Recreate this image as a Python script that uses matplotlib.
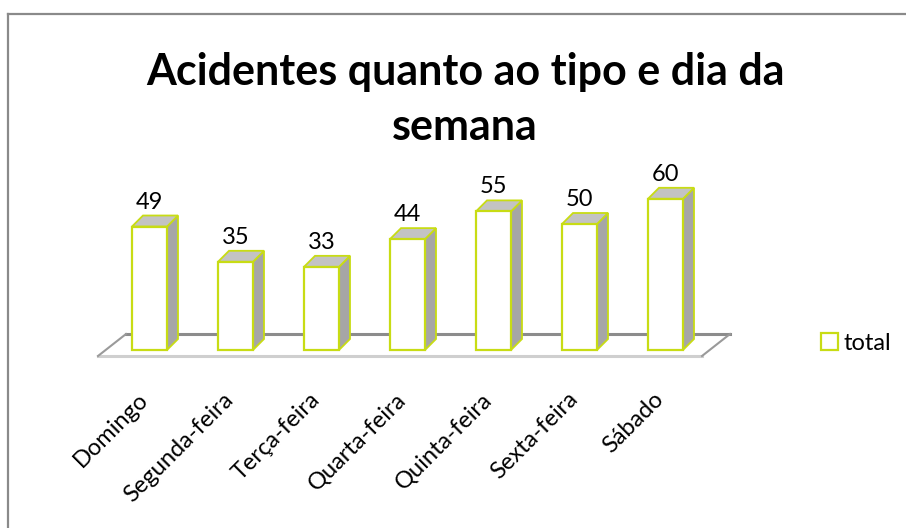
import matplotlib.pyplot as plt
from matplotlib.patches import Polygon, Rectangle, Patch
from matplotlib.lines import Line2D

# ======================
# dados
# ======================
dias = ['Domingo', 'Segunda-feira', 'Terça-feira', 'Quarta-feira',
        'Quinta-feira', 'Sexta-feira', 'Sábado']
total = [49, 35, 33, 44, 55, 50, 60]
serie = 'total'
titulo = ['Acidentes quanto ao tipo e dia da', 'semana']

plt.rcParams['font.family'] = ['Lato', 'DejaVu Sans']

# ======================
# layout (pixels)
# ======================
W, H = 906, 528
px_cat = 86.0      # px por categoria
x0_px = 149.5      # centro da 1a barra
px_val = 2.52      # px por unidade
y0_px = 350.0      # base das barras

verde = '#c8dc14'
cinza_lado = '#a6a6a6'
cinza_topo = '#c3c3c3'

fig = plt.figure(figsize=(W / 100, H / 100), dpi=100)
ax_l, ax_r, ax_t, ax_b = 60, 760, 150, 380
ax = fig.add_axes([ax_l / W, (H - ax_b) / H, (ax_r - ax_l) / W, (ax_b - ax_t) / H])
ax.set_xlim((ax_l - x0_px) / px_cat, (ax_r - x0_px) / px_cat)
ax.set_ylim((y0_px - ax_b) / px_val, (y0_px - ax_t) / px_val)
ax.axis('off')

# borda do grafico (so topo e esquerda visiveis)
fig.add_artist(Line2D([8 / W, 1], [1 - 14 / H, 1 - 14 / H], color='#8a8a8a', lw=1.6))
fig.add_artist(Line2D([8 / W, 8 / W], [0, 1 - 14 / H], color='#8a8a8a', lw=1.6))

# ======================
# piso 3D
# ======================
fl_front = (y0_px - 356) / px_val
fl_back = (y0_px - 334) / px_val
fl_x = [(98 - x0_px) / px_cat, (702 - x0_px) / px_cat,
        (730 - x0_px) / px_cat, (126 - x0_px) / px_cat]
piso = [(fl_x[0], fl_front), (fl_x[1], fl_front), (fl_x[2], fl_back), (fl_x[3], fl_back)]
ax.add_patch(Polygon(piso, closed=True, facecolor='white', edgecolor='none', zorder=1))
ax.plot([fl_x[3], fl_x[2]], [fl_back, fl_back], color='#8c8c8c', lw=2.2, zorder=2)
ax.plot([fl_x[0], fl_x[1]], [fl_front, fl_front], color='#cfcfcf', lw=2.2, zorder=2)
ax.plot([fl_x[0], fl_x[3]], [fl_front, fl_back], color='#9a9a9a', lw=1.5, zorder=2)
ax.plot([fl_x[1], fl_x[2]], [fl_front, fl_back], color='#9a9a9a', lw=1.5, zorder=2)

# ======================
# barras 3D
# ======================
bw = 35 / px_cat
ddx = 11 / px_cat
ddy = 11 / px_val

for i, v in enumerate(total):
    xl, xr = i - bw / 2, i + bw / 2
    lado = [(xr, 0), (xr + ddx, ddy), (xr + ddx, v + ddy), (xr, v)]
    topo = [(xl, v), (xr, v), (xr + ddx, v + ddy), (xl + ddx, v + ddy)]
    ax.add_patch(Polygon(lado, closed=True, facecolor=cinza_lado, edgecolor=verde, lw=1.3, zorder=3))
    ax.add_patch(Polygon(topo, closed=True, facecolor=cinza_topo, edgecolor=verde, lw=1.3, zorder=3))
    ax.add_patch(Rectangle((xl, 0), bw, v, facecolor='white', edgecolor=verde, lw=1.6, zorder=4))
    ax.annotate(str(v), xy=(i, v + ddy), xytext=(0, 5), textcoords='offset points',
                ha='center', va='baseline', fontsize=17, zorder=5)

# rotulos das categorias
for i, d in enumerate(dias):
    ax.text(i - 0.06, (y0_px - 396) / px_val, d, rotation=45, rotation_mode='anchor',
            ha='right', va='center', fontsize=17, clip_on=False)

# titulo
fig.text(465 / W, 1 - 85 / H, titulo[0], ha='center', va='baseline',
         fontsize=31, fontweight='bold')
fig.text(465 / W, 1 - 140 / H, titulo[1], ha='center', va='baseline',
         fontsize=31, fontweight='bold')

# legenda
leg = ax.legend(handles=[Patch(facecolor='white', edgecolor=verde, lw=1.6, label=serie)],
                loc='center left', bbox_to_anchor=(821 / W, 1 - 343 / H),
                bbox_transform=fig.transFigure, frameon=False, fontsize=17,
                handlelength=0.7, handleheight=0.7, handletextpad=0.25,
                borderpad=0, borderaxespad=0)

fig.savefig('out.png', dpi=100, facecolor='white')
